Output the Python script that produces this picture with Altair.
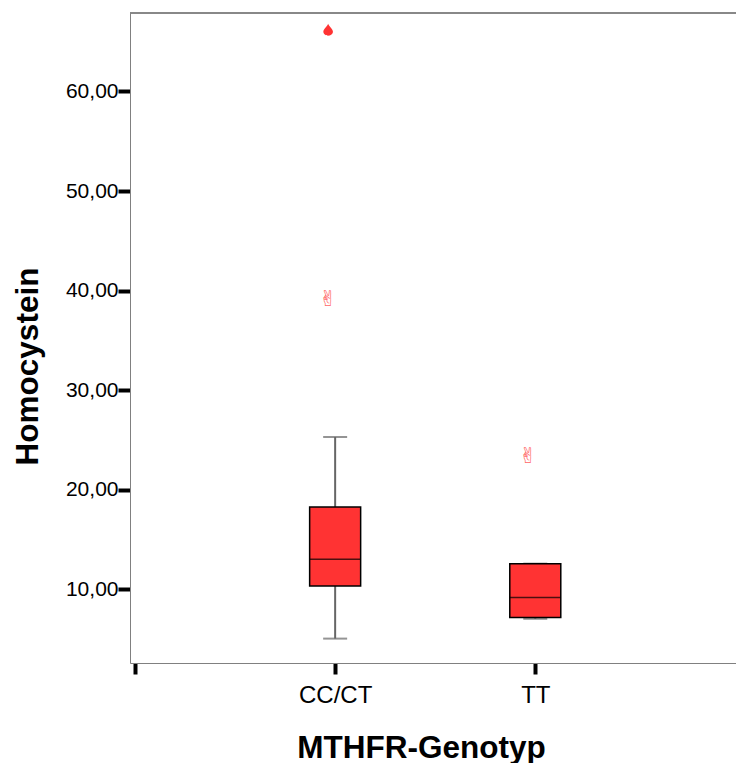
import altair as alt
import pandas as pd

# Homocystein by MTHFR genotype: box summaries, outliers and extremes
genotypes = ["CC/CT", "TT"]
positions = [1, 2]
q1 = [10.33, 7.16]
median = [13.01, 9.17]
q3 = [18.27, 12.58]
whisker_lo = [5.05, 7.04]
whisker_hi = [25.30, 12.58]

outlier_group = ["CC/CT", "TT"]
outlier_value = [39.13, 23.41]
extreme_group = ["CC/CT"]
extreme_value = [66.2]

y_ticks = [10, 20, 30, 40, 50, 60]

pos_of = dict(zip(genotypes, positions))

boxes = pd.DataFrame({
    "Genotyp": genotypes, "pos": positions, "q1": q1, "median": median,
    "q3": q3, "lo": whisker_lo, "hi": whisker_hi,
})
outliers = pd.DataFrame({
    "Genotyp": outlier_group,
    "pos": [pos_of[g] for g in outlier_group],
    "value": outlier_value,
})
extremes = pd.DataFrame({
    "Genotyp": extreme_group,
    "pos": [pos_of[g] for g in extreme_group],
    "value": extreme_value,
})

FONT = "Liberation Sans"
PLOT_W = 606
PLOT_H = 650
STEP = 203.5  # pixels between category positions

label_expr = " : ".join(
    f"datum.value == {p} ? '{g}'" for g, p in zip(genotypes, positions)
) + " : ''"

x_scale = alt.Scale(domain=[0, PLOT_W / STEP], nice=False, zero=False)
y_scale = alt.Scale(domain=[2.6, 67.88], nice=False, zero=False)

x_axis = alt.Axis(
    title="MTHFR-Genotyp", values=[0] + positions, labelExpr=label_expr,
    grid=False, domainColor="#808080", domainWidth=1,
    tickColor="black", tickWidth=4, tickSize=11,
    labelFont=FONT, labelFontSize=24, labelColor="black", labelPadding=9,
    titleFont=FONT, titleFontSize=31.5, titleFontWeight="bold", titleColor="black",
    titleX=291, titleY=94, titleAlign="center", titleBaseline="alphabetic",
)
y_axis = alt.Axis(
    title="Homocystein", values=y_ticks,
    labelExpr="replace(format(datum.value, '.2f'), '.', ',')",
    grid=False, domainColor="#808080", domainWidth=1,
    tickColor="black", tickWidth=4, tickSize=12,
    labelFont=FONT, labelFontSize=21, labelColor="black", labelPadding=0,
    titleFont=FONT, titleFontSize=31.5, titleFontWeight="bold", titleColor="black",
    titleAngle=270, titleX=-93, titleY=353, titleAlign="center",
    titleBaseline="alphabetic",
)

base = alt.Chart(boxes)
x_enc = alt.X("pos:Q", scale=x_scale, axis=x_axis)

upper_whisker = base.mark_rule(color="#666666", strokeWidth=2).encode(
    x=x_enc, y=alt.Y("q3:Q", scale=y_scale, axis=y_axis), y2="hi:Q"
)
lower_whisker = base.mark_rule(color="#666666", strokeWidth=2).encode(
    x="pos:Q", y="lo:Q", y2="q1:Q"
)
cap_hi = base.mark_tick(orient="horizontal", size=24, thickness=2, color="#666666").encode(
    x="pos:Q", y="hi:Q"
)
cap_lo = base.mark_tick(orient="horizontal", size=24, thickness=2, color="#666666").encode(
    x="pos:Q", y="lo:Q"
)
box = base.mark_bar(
    orient="vertical", width=51, fill="#ff3333", stroke="black", strokeWidth=1.5
).encode(x="pos:Q", y="q1:Q", y2="q3:Q")
med = base.mark_tick(orient="horizontal", size=51, thickness=1.5, color="black").encode(
    x="pos:Q", y="median:Q"
)

outlier_marks = alt.Chart(outliers).mark_text(
    text="\u270c", font="DejaVu Sans", fontSize=22, color="#ff5555",
    dx=-7, baseline="middle", align="center", opacity=0.9,
).encode(x="pos:Q", y="value:Q")

drop = "M0,-1 C0.15,-0.6 0.8,-0.1 0.8,0.35 C0.8,0.75 0.4,1 0,1 C-0.4,1 -0.8,0.75 -0.8,0.35 C-0.8,-0.1 -0.15,-0.6 0,-1 Z"
extreme_marks = alt.Chart(extremes).mark_point(
    shape=drop, size=144, filled=True, fill="#ff3333", strokeWidth=0,
    opacity=1, xOffset=-7,
).encode(x="pos:Q", y="value:Q")

top_line = alt.Chart(boxes).mark_rule(color="#808080", strokeWidth=1.5).encode(
    x=alt.value(0), x2=alt.value(PLOT_W), y=alt.value(0)
)

chart = alt.layer(
    upper_whisker, lower_whisker, cap_hi, cap_lo, box, med,
    outlier_marks, extreme_marks, top_line,
).properties(
    width=PLOT_W, height=PLOT_H,
    autosize=alt.AutoSizeParams(type="none"),
    padding={"left": 130, "top": 13, "right": 0, "bottom": 100},
    background="white",
).configure_view(stroke=None)

chart.save("out.html", embed_options={"renderer": "svg", "actions": False})
